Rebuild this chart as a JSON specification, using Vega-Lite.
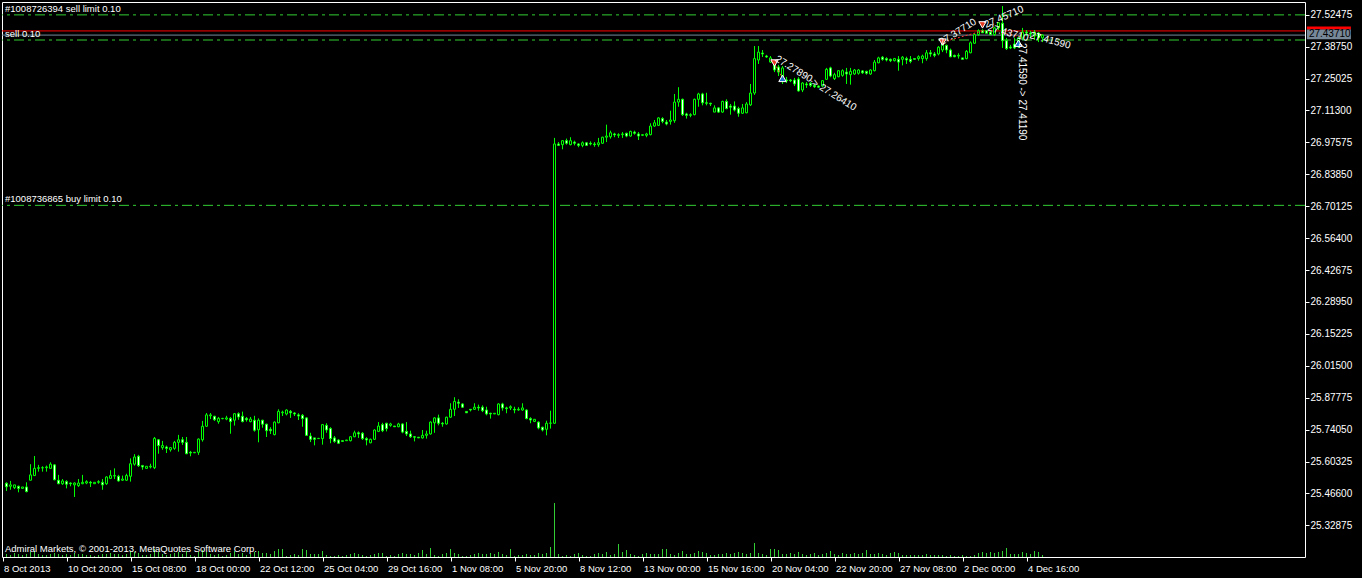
{
"$schema": "https://vega.github.io/schema/vega-lite/v6.json",
"width": 1303,
"height": 555,
"autosize": {"type": "none"},
"padding": {"left": 2, "top": 2, "right": 57, "bottom": 21},
"background": "#000000",
"config": {"view": {"stroke": "#FFFFFF", "strokeWidth": 1}, "scale": {"continuousPadding": 0}},
"datasets": {
"bars": [
{"i":0,"o":25.510,"h":25.514,"l":25.477,"c":25.495,"v":300},
{"i":1,"o":25.497,"h":25.520,"l":25.482,"c":25.503,"v":200},
{"i":2,"o":25.491,"h":25.503,"l":25.485,"c":25.503,"v":400},
{"i":3,"o":25.497,"h":25.500,"l":25.471,"c":25.488,"v":300},
{"i":4,"o":25.488,"h":25.494,"l":25.487,"c":25.494,"v":200},
{"i":5,"o":25.494,"h":25.514,"l":25.471,"c":25.474,"v":300},
{"i":6,"o":25.523,"h":25.592,"l":25.523,"c":25.546,"v":500},
{"i":7,"o":25.543,"h":25.627,"l":25.543,"c":25.574,"v":600},
{"i":8,"o":25.574,"h":25.589,"l":25.560,"c":25.577,"v":300},
{"i":9,"o":25.576,"h":25.583,"l":25.560,"c":25.577,"v":200},
{"i":10,"o":25.577,"h":25.586,"l":25.560,"c":25.580,"v":200},
{"i":11,"o":25.574,"h":25.600,"l":25.574,"c":25.592,"v":300},
{"i":12,"o":25.589,"h":25.592,"l":25.523,"c":25.525,"v":400},
{"i":13,"o":25.523,"h":25.546,"l":25.506,"c":25.508,"v":300},
{"i":14,"o":25.508,"h":25.528,"l":25.503,"c":25.520,"v":200},
{"i":15,"o":25.517,"h":25.523,"l":25.488,"c":25.506,"v":300},
{"i":16,"o":25.511,"h":25.514,"l":25.497,"c":25.508,"v":200},
{"i":17,"o":25.503,"h":25.514,"l":25.451,"c":25.511,"v":400},
{"i":18,"o":25.500,"h":25.528,"l":25.494,"c":25.511,"v":300},
{"i":19,"o":25.508,"h":25.546,"l":25.506,"c":25.514,"v":300},
{"i":20,"o":25.511,"h":25.523,"l":25.506,"c":25.517,"v":200},
{"i":21,"o":25.514,"h":25.520,"l":25.494,"c":25.511,"v":200},
{"i":22,"o":25.508,"h":25.514,"l":25.508,"c":25.514,"v":100},
{"i":23,"o":25.514,"h":25.523,"l":25.508,"c":25.517,"v":200},
{"i":24,"o":25.514,"h":25.528,"l":25.482,"c":25.503,"v":300},
{"i":25,"o":25.508,"h":25.540,"l":25.503,"c":25.537,"v":300},
{"i":26,"o":25.531,"h":25.566,"l":25.528,"c":25.543,"v":400},
{"i":27,"o":25.541,"h":25.574,"l":25.528,"c":25.543,"v":300},
{"i":28,"o":25.540,"h":25.546,"l":25.517,"c":25.520,"v":300},
{"i":29,"o":25.523,"h":25.543,"l":25.520,"c":25.528,"v":200},
{"i":30,"o":25.523,"h":25.551,"l":25.520,"c":25.543,"v":300},
{"i":31,"o":25.540,"h":25.617,"l":25.517,"c":25.594,"v":600},
{"i":32,"o":25.592,"h":25.635,"l":25.586,"c":25.623,"v":500},
{"i":33,"o":25.626,"h":25.632,"l":25.580,"c":25.586,"v":400},
{"i":34,"o":25.586,"h":25.589,"l":25.568,"c":25.580,"v":200},
{"i":35,"o":25.574,"h":25.583,"l":25.574,"c":25.583,"v":200},
{"i":36,"o":25.580,"h":25.594,"l":25.574,"c":25.583,"v":300},
{"i":37,"o":25.577,"h":25.709,"l":25.571,"c":25.703,"v":800},
{"i":38,"o":25.697,"h":25.700,"l":25.637,"c":25.672,"v":500},
{"i":39,"o":25.663,"h":25.692,"l":25.654,"c":25.672,"v":300},
{"i":40,"o":25.666,"h":25.672,"l":25.640,"c":25.660,"v":200},
{"i":41,"o":25.654,"h":25.666,"l":25.646,"c":25.663,"v":300},
{"i":42,"o":25.660,"h":25.692,"l":25.654,"c":25.686,"v":400},
{"i":43,"o":25.686,"h":25.718,"l":25.646,"c":25.697,"v":500},
{"i":44,"o":25.697,"h":25.709,"l":25.675,"c":25.686,"v":300},
{"i":45,"o":25.686,"h":25.709,"l":25.635,"c":25.637,"v":600},
{"i":46,"o":25.643,"h":25.649,"l":25.626,"c":25.640,"v":200},
{"i":47,"o":25.641,"h":25.643,"l":25.640,"c":25.643,"v":100},
{"i":48,"o":25.643,"h":25.703,"l":25.632,"c":25.700,"v":500},
{"i":49,"o":25.697,"h":25.778,"l":25.689,"c":25.755,"v":700},
{"i":50,"o":25.755,"h":25.812,"l":25.752,"c":25.804,"v":500},
{"i":51,"o":25.800,"h":25.812,"l":25.786,"c":25.804,"v":300},
{"i":52,"o":25.798,"h":25.800,"l":25.778,"c":25.783,"v":200},
{"i":53,"o":25.775,"h":25.795,"l":25.766,"c":25.789,"v":300},
{"i":54,"o":25.788,"h":25.791,"l":25.785,"c":25.789,"v":100},
{"i":55,"o":25.786,"h":25.800,"l":25.781,"c":25.791,"v":200},
{"i":56,"o":25.789,"h":25.795,"l":25.723,"c":25.775,"v":400},
{"i":57,"o":25.781,"h":25.812,"l":25.758,"c":25.809,"v":600},
{"i":58,"o":25.809,"h":25.815,"l":25.783,"c":25.795,"v":300},
{"i":59,"o":25.798,"h":25.818,"l":25.772,"c":25.775,"v":400},
{"i":60,"o":25.789,"h":25.795,"l":25.775,"c":25.783,"v":200},
{"i":61,"o":25.775,"h":25.795,"l":25.772,"c":25.786,"v":300},
{"i":62,"o":25.781,"h":25.800,"l":25.732,"c":25.738,"v":500},
{"i":63,"o":25.740,"h":25.789,"l":25.686,"c":25.781,"v":600},
{"i":64,"o":25.781,"h":25.783,"l":25.749,"c":25.764,"v":400},
{"i":65,"o":25.764,"h":25.766,"l":25.709,"c":25.736,"v":400},
{"i":66,"o":25.742,"h":25.751,"l":25.722,"c":25.736,"v":300},
{"i":67,"o":25.719,"h":25.776,"l":25.716,"c":25.773,"v":600},
{"i":68,"o":25.770,"h":25.828,"l":25.768,"c":25.819,"v":800},
{"i":69,"o":25.813,"h":25.822,"l":25.799,"c":25.816,"v":800},
{"i":70,"o":25.808,"h":25.828,"l":25.802,"c":25.825,"v":100},
{"i":71,"o":25.819,"h":25.825,"l":25.791,"c":25.813,"v":200},
{"i":72,"o":25.812,"h":25.816,"l":25.799,"c":25.808,"v":300},
{"i":73,"o":25.804,"h":25.811,"l":25.782,"c":25.799,"v":200},
{"i":74,"o":25.802,"h":25.808,"l":25.753,"c":25.788,"v":800},
{"i":75,"o":25.791,"h":25.794,"l":25.713,"c":25.716,"v":700},
{"i":76,"o":25.713,"h":25.727,"l":25.687,"c":25.699,"v":300},
{"i":77,"o":25.705,"h":25.705,"l":25.673,"c":25.699,"v":300},
{"i":78,"o":25.702,"h":25.705,"l":25.702,"c":25.703,"v":300},
{"i":79,"o":25.702,"h":25.765,"l":25.676,"c":25.762,"v":600},
{"i":80,"o":25.759,"h":25.768,"l":25.727,"c":25.739,"v":200},
{"i":81,"o":25.745,"h":25.751,"l":25.682,"c":25.702,"v":100},
{"i":82,"o":25.705,"h":25.713,"l":25.684,"c":25.690,"v":100},
{"i":83,"o":25.696,"h":25.699,"l":25.679,"c":25.682,"v":200},
{"i":84,"o":25.693,"h":25.693,"l":25.690,"c":25.690,"v":100},
{"i":85,"o":25.693,"h":25.696,"l":25.693,"c":25.696,"v":200},
{"i":86,"o":25.693,"h":25.713,"l":25.690,"c":25.710,"v":300},
{"i":87,"o":25.710,"h":25.736,"l":25.708,"c":25.727,"v":400},
{"i":88,"o":25.727,"h":25.733,"l":25.705,"c":25.722,"v":300},
{"i":89,"o":25.725,"h":25.730,"l":25.696,"c":25.702,"v":200},
{"i":90,"o":25.702,"h":25.708,"l":25.673,"c":25.696,"v":100},
{"i":91,"o":25.684,"h":25.702,"l":25.682,"c":25.699,"v":200},
{"i":92,"o":25.699,"h":25.742,"l":25.696,"c":25.739,"v":300},
{"i":93,"o":25.733,"h":25.773,"l":25.730,"c":25.756,"v":400},
{"i":94,"o":25.762,"h":25.770,"l":25.730,"c":25.736,"v":400},
{"i":95,"o":25.768,"h":25.770,"l":25.733,"c":25.745,"v":100},
{"i":96,"o":25.759,"h":25.770,"l":25.753,"c":25.765,"v":200},
{"i":97,"o":25.756,"h":25.756,"l":25.753,"c":25.753,"v":100},
{"i":98,"o":25.753,"h":25.770,"l":25.751,"c":25.765,"v":300},
{"i":99,"o":25.765,"h":25.768,"l":25.725,"c":25.730,"v":400},
{"i":100,"o":25.733,"h":25.773,"l":25.713,"c":25.722,"v":300},
{"i":101,"o":25.722,"h":25.736,"l":25.705,"c":25.710,"v":300},
{"i":102,"o":25.710,"h":25.713,"l":25.690,"c":25.708,"v":200},
{"i":103,"o":25.708,"h":25.708,"l":25.705,"c":25.705,"v":400},
{"i":104,"o":25.705,"h":25.739,"l":25.702,"c":25.716,"v":700},
{"i":105,"o":25.716,"h":25.736,"l":25.702,"c":25.722,"v":300},
{"i":106,"o":25.722,"h":25.776,"l":25.719,"c":25.773,"v":900},
{"i":107,"o":25.770,"h":25.794,"l":25.727,"c":25.791,"v":200},
{"i":108,"o":25.791,"h":25.805,"l":25.759,"c":25.768,"v":100},
{"i":109,"o":25.768,"h":25.773,"l":25.753,"c":25.765,"v":300},
{"i":110,"o":25.765,"h":25.796,"l":25.762,"c":25.794,"v":400},
{"i":111,"o":25.794,"h":25.854,"l":25.791,"c":25.828,"v":800},
{"i":112,"o":25.828,"h":25.880,"l":25.799,"c":25.862,"v":400},
{"i":113,"o":25.859,"h":25.871,"l":25.834,"c":25.854,"v":300},
{"i":114,"o":25.851,"h":25.854,"l":25.834,"c":25.837,"v":100},
{"i":115,"o":25.819,"h":25.819,"l":25.813,"c":25.813,"v":100},
{"i":116,"o":25.828,"h":25.828,"l":25.819,"c":25.825,"v":200},
{"i":117,"o":25.828,"h":25.854,"l":25.825,"c":25.837,"v":300},
{"i":118,"o":25.837,"h":25.848,"l":25.822,"c":25.834,"v":400},
{"i":119,"o":25.837,"h":25.845,"l":25.816,"c":25.822,"v":300},
{"i":120,"o":25.825,"h":25.839,"l":25.802,"c":25.808,"v":300},
{"i":121,"o":25.811,"h":25.813,"l":25.788,"c":25.808,"v":400},
{"i":122,"o":25.808,"h":25.811,"l":25.808,"c":25.811,"v":300},
{"i":123,"o":25.805,"h":25.854,"l":25.802,"c":25.851,"v":500},
{"i":124,"o":25.851,"h":25.856,"l":25.822,"c":25.834,"v":300},
{"i":125,"o":25.834,"h":25.839,"l":25.811,"c":25.831,"v":200},
{"i":126,"o":25.834,"h":25.845,"l":25.825,"c":25.839,"v":800},
{"i":127,"o":25.828,"h":25.839,"l":25.811,"c":25.825,"v":100},
{"i":128,"o":25.825,"h":25.837,"l":25.822,"c":25.828,"v":200},
{"i":129,"o":25.825,"h":25.854,"l":25.822,"c":25.834,"v":200},
{"i":130,"o":25.825,"h":25.828,"l":25.785,"c":25.788,"v":300},
{"i":131,"o":25.788,"h":25.794,"l":25.768,"c":25.782,"v":200},
{"i":132,"o":25.776,"h":25.785,"l":25.773,"c":25.785,"v":200},
{"i":133,"o":25.773,"h":25.776,"l":25.742,"c":25.748,"v":400},
{"i":134,"o":25.751,"h":25.753,"l":25.733,"c":25.739,"v":300},
{"i":135,"o":25.742,"h":25.779,"l":25.716,"c":25.768,"v":400},
{"i":136,"o":25.768,"h":25.822,"l":25.745,"c":25.769,"v":1000},
{"i":137,"o":25.768,"h":26.995,"l":25.765,"c":26.969,"v":5400},
{"i":138,"o":26.969,"h":26.977,"l":26.960,"c":26.963,"v":300},
{"i":139,"o":26.966,"h":26.986,"l":26.946,"c":26.983,"v":100},
{"i":140,"o":26.983,"h":26.992,"l":26.966,"c":26.972,"v":200},
{"i":141,"o":26.966,"h":26.998,"l":26.963,"c":26.983,"v":100},
{"i":142,"o":26.977,"h":26.983,"l":26.963,"c":26.972,"v":300},
{"i":143,"o":26.969,"h":26.972,"l":26.955,"c":26.963,"v":400},
{"i":144,"o":26.963,"h":26.980,"l":26.955,"c":26.974,"v":200},
{"i":145,"o":26.974,"h":26.977,"l":26.960,"c":26.963,"v":100},
{"i":146,"o":26.972,"h":26.980,"l":26.963,"c":26.969,"v":100},
{"i":147,"o":26.969,"h":26.977,"l":26.957,"c":26.966,"v":300},
{"i":148,"o":26.966,"h":26.995,"l":26.957,"c":26.974,"v":400},
{"i":149,"o":26.972,"h":27.000,"l":26.969,"c":26.998,"v":300},
{"i":150,"o":26.998,"h":27.052,"l":26.977,"c":27.003,"v":500},
{"i":151,"o":27.000,"h":27.026,"l":26.992,"c":27.017,"v":200},
{"i":152,"o":27.012,"h":27.017,"l":26.998,"c":27.008,"v":300},
{"i":153,"o":27.006,"h":27.015,"l":26.995,"c":27.009,"v":1300},
{"i":154,"o":27.009,"h":27.020,"l":26.995,"c":27.012,"v":500},
{"i":155,"o":27.015,"h":27.017,"l":26.998,"c":27.003,"v":700},
{"i":156,"o":27.003,"h":27.026,"l":27.000,"c":27.023,"v":300},
{"i":157,"o":27.020,"h":27.026,"l":27.009,"c":27.015,"v":200},
{"i":158,"o":27.012,"h":27.020,"l":26.986,"c":27.003,"v":100},
{"i":159,"o":27.006,"h":27.009,"l":27.003,"c":27.009,"v":300},
{"i":160,"o":27.006,"h":27.017,"l":26.998,"c":27.012,"v":400},
{"i":161,"o":27.009,"h":27.058,"l":27.006,"c":27.046,"v":300},
{"i":162,"o":27.046,"h":27.072,"l":27.043,"c":27.060,"v":300},
{"i":163,"o":27.049,"h":27.084,"l":27.046,"c":27.081,"v":300},
{"i":164,"o":27.078,"h":27.084,"l":27.058,"c":27.066,"v":800},
{"i":165,"o":27.063,"h":27.072,"l":27.049,"c":27.055,"v":800},
{"i":166,"o":27.066,"h":27.112,"l":27.052,"c":27.072,"v":300},
{"i":167,"o":27.069,"h":27.184,"l":27.060,"c":27.149,"v":200},
{"i":168,"o":27.149,"h":27.213,"l":27.129,"c":27.161,"v":400},
{"i":169,"o":27.161,"h":27.164,"l":27.089,"c":27.095,"v":600},
{"i":170,"o":27.098,"h":27.103,"l":27.078,"c":27.092,"v":300},
{"i":171,"o":27.092,"h":27.101,"l":27.084,"c":27.095,"v":300},
{"i":172,"o":27.095,"h":27.164,"l":27.092,"c":27.161,"v":400},
{"i":173,"o":27.161,"h":27.189,"l":27.129,"c":27.184,"v":600},
{"i":174,"o":27.184,"h":27.189,"l":27.135,"c":27.146,"v":500},
{"i":175,"o":27.146,"h":27.189,"l":27.135,"c":27.144,"v":400},
{"i":176,"o":27.144,"h":27.146,"l":27.132,"c":27.141,"v":200},
{"i":177,"o":27.106,"h":27.135,"l":27.106,"c":27.124,"v":200},
{"i":178,"o":27.124,"h":27.127,"l":27.103,"c":27.106,"v":300},
{"i":179,"o":27.106,"h":27.155,"l":27.103,"c":27.152,"v":300},
{"i":180,"o":27.152,"h":27.161,"l":27.118,"c":27.121,"v":400},
{"i":181,"o":27.132,"h":27.141,"l":27.095,"c":27.127,"v":300},
{"i":182,"o":27.132,"h":27.152,"l":27.109,"c":27.115,"v":400},
{"i":183,"o":27.121,"h":27.129,"l":27.086,"c":27.101,"v":500},
{"i":184,"o":27.101,"h":27.141,"l":27.098,"c":27.124,"v":400},
{"i":185,"o":27.103,"h":27.149,"l":27.101,"c":27.141,"v":300},
{"i":186,"o":27.137,"h":27.227,"l":27.132,"c":27.188,"v":400},
{"i":187,"o":27.188,"h":27.390,"l":27.180,"c":27.336,"v":1400},
{"i":188,"o":27.330,"h":27.390,"l":27.313,"c":27.364,"v":400},
{"i":189,"o":27.360,"h":27.373,"l":27.343,"c":27.356,"v":300},
{"i":190,"o":27.347,"h":27.352,"l":27.339,"c":27.343,"v":200},
{"i":191,"o":27.321,"h":27.347,"l":27.317,"c":27.339,"v":800},
{"i":192,"o":27.317,"h":27.330,"l":27.278,"c":27.287,"v":800},
{"i":193,"o":27.300,"h":27.309,"l":27.261,"c":27.278,"v":700},
{"i":194,"o":27.244,"h":27.304,"l":27.227,"c":27.296,"v":300},
{"i":195,"o":27.244,"h":27.257,"l":27.231,"c":27.240,"v":300},
{"i":196,"o":27.244,"h":27.248,"l":27.235,"c":27.241,"v":400},
{"i":197,"o":27.244,"h":27.253,"l":27.218,"c":27.227,"v":300},
{"i":198,"o":27.248,"h":27.256,"l":27.194,"c":27.197,"v":500},
{"i":199,"o":27.201,"h":27.235,"l":27.192,"c":27.231,"v":300},
{"i":200,"o":27.227,"h":27.235,"l":27.210,"c":27.223,"v":200},
{"i":201,"o":27.230,"h":27.235,"l":27.214,"c":27.221,"v":300},
{"i":202,"o":27.221,"h":27.227,"l":27.210,"c":27.215,"v":400},
{"i":203,"o":27.218,"h":27.221,"l":27.210,"c":27.213,"v":200},
{"i":204,"o":27.218,"h":27.244,"l":27.214,"c":27.241,"v":300},
{"i":205,"o":27.247,"h":27.296,"l":27.244,"c":27.290,"v":400},
{"i":206,"o":27.296,"h":27.301,"l":27.256,"c":27.261,"v":600},
{"i":207,"o":27.250,"h":27.275,"l":27.244,"c":27.267,"v":300},
{"i":208,"o":27.258,"h":27.287,"l":27.256,"c":27.284,"v":200},
{"i":209,"o":27.264,"h":27.290,"l":27.258,"c":27.284,"v":400},
{"i":210,"o":27.278,"h":27.296,"l":27.227,"c":27.270,"v":300},
{"i":211,"o":27.267,"h":27.296,"l":27.224,"c":27.281,"v":300},
{"i":212,"o":27.270,"h":27.291,"l":27.266,"c":27.287,"v":400},
{"i":213,"o":27.273,"h":27.291,"l":27.267,"c":27.287,"v":300},
{"i":214,"o":27.283,"h":27.287,"l":27.270,"c":27.275,"v":400},
{"i":215,"o":27.281,"h":27.284,"l":27.267,"c":27.273,"v":700},
{"i":216,"o":27.270,"h":27.290,"l":27.266,"c":27.287,"v":300},
{"i":217,"o":27.284,"h":27.330,"l":27.281,"c":27.321,"v":300},
{"i":218,"o":27.318,"h":27.344,"l":27.316,"c":27.339,"v":400},
{"i":219,"o":27.342,"h":27.347,"l":27.327,"c":27.333,"v":300},
{"i":220,"o":27.336,"h":27.342,"l":27.324,"c":27.330,"v":200},
{"i":221,"o":27.333,"h":27.336,"l":27.321,"c":27.327,"v":400},
{"i":222,"o":27.327,"h":27.339,"l":27.324,"c":27.336,"v":500},
{"i":223,"o":27.333,"h":27.347,"l":27.284,"c":27.321,"v":400},
{"i":224,"o":27.333,"h":27.347,"l":27.307,"c":27.342,"v":200},
{"i":225,"o":27.336,"h":27.344,"l":27.313,"c":27.330,"v":200},
{"i":226,"o":27.333,"h":27.347,"l":27.316,"c":27.324,"v":200},
{"i":227,"o":27.336,"h":27.336,"l":27.333,"c":27.333,"v":200},
{"i":228,"o":27.336,"h":27.350,"l":27.327,"c":27.344,"v":200},
{"i":229,"o":27.336,"h":27.353,"l":27.316,"c":27.347,"v":200},
{"i":230,"o":27.336,"h":27.373,"l":27.327,"c":27.361,"v":300},
{"i":231,"o":27.361,"h":27.373,"l":27.344,"c":27.356,"v":200},
{"i":232,"o":27.356,"h":27.364,"l":27.342,"c":27.350,"v":200},
{"i":233,"o":27.356,"h":27.390,"l":27.350,"c":27.385,"v":200},
{"i":234,"o":27.373,"h":27.407,"l":27.364,"c":27.402,"v":200},
{"i":235,"o":27.393,"h":27.396,"l":27.359,"c":27.373,"v":100},
{"i":236,"o":27.373,"h":27.379,"l":27.342,"c":27.344,"v":200},
{"i":237,"o":27.350,"h":27.353,"l":27.342,"c":27.344,"v":100},
{"i":238,"o":27.347,"h":27.359,"l":27.336,"c":27.350,"v":100},
{"i":239,"o":27.339,"h":27.339,"l":27.333,"c":27.333,"v":200},
{"i":240,"o":27.336,"h":27.373,"l":27.333,"c":27.367,"v":100},
{"i":241,"o":27.361,"h":27.410,"l":27.359,"c":27.404,"v":100},
{"i":242,"o":27.402,"h":27.445,"l":27.399,"c":27.439,"v":200},
{"i":243,"o":27.439,"h":27.462,"l":27.433,"c":27.456,"v":400},
{"i":244,"o":27.456,"h":27.462,"l":27.446,"c":27.447,"v":500},
{"i":245,"o":27.456,"h":27.456,"l":27.445,"c":27.445,"v":400},
{"i":246,"o":27.450,"h":27.455,"l":27.438,"c":27.439,"v":500},
{"i":247,"o":27.439,"h":27.473,"l":27.433,"c":27.468,"v":400},
{"i":248,"o":27.468,"h":27.493,"l":27.459,"c":27.490,"v":500},
{"i":249,"o":27.488,"h":27.562,"l":27.382,"c":27.413,"v":600},
{"i":250,"o":27.413,"h":27.425,"l":27.373,"c":27.379,"v":900},
{"i":251,"o":27.386,"h":27.395,"l":27.377,"c":27.382,"v":300},
{"i":252,"o":27.399,"h":27.425,"l":27.377,"c":27.382,"v":300},
{"i":253,"o":27.386,"h":27.433,"l":27.382,"c":27.425,"v":300},
{"i":254,"o":27.425,"h":27.468,"l":27.416,"c":27.450,"v":500},
{"i":255,"o":27.450,"h":27.459,"l":27.433,"c":27.446,"v":400},
{"i":256,"o":27.446,"h":27.455,"l":27.425,"c":27.442,"v":300},
{"i":257,"o":27.433,"h":27.459,"l":27.416,"c":27.450,"v":600},
{"i":258,"o":27.446,"h":27.450,"l":27.407,"c":27.425,"v":500},
{"i":259,"o":27.425,"h":27.441,"l":27.407,"c":27.437,"v":200}
],
"levels": [
{"name":"#1008726394 sell limit 0.10","p":27.524},
{"name":"sell 0.10","p":27.416},
{"name":"#1008736865 buy limit 0.10","p":26.705}
],
"quotes": [
{"name":"ask","p":27.455,"label":"27.45500"},
{"name":"bid","p":27.4371,"label":"27.43710"}
],
"trades": [
{"side":"sell","i":192,"p":27.317},
{"side":"buy","i":194,"p":27.251},
{"side":"sell","i":234,"p":27.407},
{"side":"sell","i":244,"p":27.481},
{"side":"buy","i":253,"p":27.402}
],
"tradelines": [
{"i":192,"p":27.317,"i2":194,"p2":27.251},
{"i":234,"p":27.407,"i2":244,"p2":27.455},
{"i":249,"p":27.446,"i2":254,"p2":27.429}
],
"notes": [
{"id":1,"t":"27.27890","i":192.4,"p":27.339},
{"id":2,"t":"-> 27.26410","i":200.9,"p":27.244},
{"id":3,"t":"27.37710","i":233.4,"p":27.403},
{"id":4,"t":"27.45710","i":244.6,"p":27.479},
{"id":5,"t":"27.43710","i":245.4,"p":27.470},
{"id":6,"t":"27.41590 -> 27.41190","i":253.9,"p":27.403},
{"id":7,"t":"27.41590","i":255.9,"p":27.437}
],
"corner": [
{"t":"Admiral Markets, © 2001-2013, MetaQuotes Software Corp.","p":25.227}
]
},
"resolve": {"scale": {"y": "independent"}},
"layer": [
{
"data": {"name": "bars"},
"mark": {"type": "bar", "size": 1, "color": "#32CD32"},
"encoding": {
"x": {"field": "i", "type": "quantitative", "scale": {"domain": [-1.125, 324.625], "nice": false, "zero": false, "padding": 0},
"axis": {"values": [-1,15,31,47,63,79,95,111,127,143,159,175,191,207,223,239,255],
"labelExpr": "['8 Oct 2013','10 Oct 20:00','15 Oct 08:00','18 Oct 00:00','22 Oct 12:00','25 Oct 04:00','29 Oct 16:00','1 Nov 08:00','5 Nov 20:00','8 Nov 12:00','13 Nov 00:00','15 Nov 16:00','20 Nov 04:00','22 Nov 20:00','27 Nov 08:00','2 Dec 00:00','4 Dec 16:00'][round((datum.value+1)/16)]",
"labelAlign": "left", "labelBaseline": "top", "labelPadding": 2, "labelOffset": 1, "labelColor": "#FFFFFF", "labelFont": "Liberation Sans", "labelFontSize": 9.5,
"tickColor": "#FFFFFF", "tickSize": 4, "tickWidth": 1, "domain": false, "grid": false, "title": null, "labelOverlap": false, "labelFlush": false, "labelBound": false}},
"y": {"field": "v", "type": "quantitative", "scale": {"domain": [0, 55500], "nice": false}, "axis": null},
"y2": {"datum": 0}
}
},
{
"data": {"name": "bars"},
"mark": {"type": "bar", "size": 2, "stroke": "#00FF00", "strokeWidth": 1, "opacity": 0},
"encoding": {
"x": {"field": "i", "type": "quantitative", "scale": {"domain": [-1.125, 324.625], "nice": false, "zero": false, "padding": 0}},
"y": {"field": "o", "type": "quantitative", "scale": {"domain": [25.1929, 27.5794], "nice": false, "zero": false},
"axis": {"orient": "right", "values": [25.32875,25.466,25.60325,25.7405,25.87775,26.015,26.15225,26.2895,26.42675,26.564,26.70125,26.8385,26.97575,27.113,27.25025,27.3875,27.52475],
"format": ".5f", "labelColor": "#FFFFFF", "labelFont": "Liberation Sans", "labelFontSize": 10, "labelPadding": 1,
"tickColor": "#FFFFFF", "tickSize": 4, "tickWidth": 1, "domain": false, "grid": false, "title": null, "labelOverlap": false, "labelFlush": false, "labelBound": false}},
"y2": {"field": "c"}
}
},
{
"data": {"name": "levels"},
"mark": {"type": "rule", "color": "#32CD32", "strokeWidth": 1, "strokeDash": [10, 4, 3, 4]},
"encoding": {"y": {"field": "p", "type": "quantitative", "scale": {"domain": [25.1929, 27.5794], "nice": false, "zero": false}, "axis": null}}
},
{
"data": {"name": "quotes"},
"transform": [{"filter": "datum.name == 'ask'"}],
"mark": {"type": "rule", "color": "#FF0000", "strokeWidth": 1},
"encoding": {"y": {"field": "p", "type": "quantitative", "scale": {"domain": [25.1929, 27.5794], "nice": false, "zero": false}, "axis": null}}
},
{
"data": {"name": "quotes"},
"transform": [{"filter": "datum.name == 'bid'"}],
"mark": {"type": "rule", "color": "#778899", "strokeWidth": 1},
"encoding": {"y": {"field": "p", "type": "quantitative", "scale": {"domain": [25.1929, 27.5794], "nice": false, "zero": false}, "axis": null}}
},
{
"data": {"name": "bars"},
"mark": {"type": "rule", "color": "#00FF00", "strokeWidth": 1},
"encoding": {
"x": {"field": "i", "type": "quantitative", "scale": {"domain": [-1.125, 324.625], "nice": false, "zero": false, "padding": 0}},
"y": {"field": "l", "type": "quantitative", "scale": {"domain": [25.1929, 27.5794], "nice": false, "zero": false}, "axis": null},
"y2": {"field": "h"}
}
},
{
"data": {"name": "bars"},
"mark": {"type": "bar", "size": 2, "stroke": "#00FF00", "strokeWidth": 1},
"encoding": {
"x": {"field": "i", "type": "quantitative", "scale": {"domain": [-1.125, 324.625], "nice": false, "zero": false, "padding": 0}},
"y": {"field": "o", "type": "quantitative", "scale": {"domain": [25.1929, 27.5794], "nice": false, "zero": false}, "axis": null},
"y2": {"field": "c"},
"fill": {"condition": {"test": "datum.c < datum.o", "value": "#FFFFFF"}, "value": "#000000"}
}
},
{
"data": {"name": "tradelines"},
"mark": {"type": "rule", "color": "#FF3030", "strokeWidth": 1, "strokeDash": [2, 2]},
"encoding": {
"x": {"field": "i", "type": "quantitative", "scale": {"domain": [-1.125, 324.625], "nice": false, "zero": false, "padding": 0}},
"x2": {"field": "i2"},
"y": {"field": "p", "type": "quantitative", "scale": {"domain": [25.1929, 27.5794], "nice": false, "zero": false}, "axis": null},
"y2": {"field": "p2"}
}
},
{
"data": {"name": "trades"},
"transform": [{"filter": "datum.side == 'sell'"}],
"mark": {"type": "point", "shape": "triangle-down", "filled": true, "fill": "#E83A1E", "stroke": "#FFFFFF", "strokeWidth": 1, "size": 55, "opacity": 1},
"encoding": {
"x": {"field": "i", "type": "quantitative", "scale": {"domain": [-1.125, 324.625], "nice": false, "zero": false, "padding": 0}},
"y": {"field": "p", "type": "quantitative", "scale": {"domain": [25.1929, 27.5794], "nice": false, "zero": false}, "axis": null}
}
},
{
"data": {"name": "trades"},
"transform": [{"filter": "datum.side == 'buy'"}],
"mark": {"type": "point", "shape": "triangle-up", "filled": true, "fill": "#1E6ED2", "stroke": "#FFFFFF", "strokeWidth": 1, "size": 55, "opacity": 1},
"encoding": {
"x": {"field": "i", "type": "quantitative", "scale": {"domain": [-1.125, 324.625], "nice": false, "zero": false, "padding": 0}},
"y": {"field": "p", "type": "quantitative", "scale": {"domain": [25.1929, 27.5794], "nice": false, "zero": false}, "axis": null}
}
},
{
"data": {"name": "levels"},
"mark": {"type": "text", "align": "left", "baseline": "bottom", "dy": -1, "color": "#FFFFFF", "font": "Liberation Sans", "fontSize": 9.5},
"encoding": {
"x": {"datum": -0.375, "type": "quantitative", "scale": {"domain": [-1.125, 324.625], "nice": false, "zero": false, "padding": 0}},
"y": {"field": "p", "type": "quantitative", "scale": {"domain": [25.1929, 27.5794], "nice": false, "zero": false}, "axis": null},
"text": {"field": "name"}
}
},
{
"data": {"name": "corner"},
"mark": {"type": "text", "align": "left", "baseline": "middle", "color": "#FFFFFF", "font": "Liberation Sans", "fontSize": 9.5},
"encoding": {
"x": {"datum": -0.375, "type": "quantitative", "scale": {"domain": [-1.125, 324.625], "nice": false, "zero": false, "padding": 0}},
"y": {"field": "p", "type": "quantitative", "scale": {"domain": [25.1929, 27.5794], "nice": false, "zero": false}, "axis": null},
"text": {"field": "t"}
}
},
{
"data": {"name": "notes"},
"transform": [{"filter": "datum.id == 1 || datum.id == 2"}],
"mark": {"type": "text", "align": "left", "baseline": "middle", "angle": 32, "color": "#FFFFFF", "font": "Liberation Sans", "fontSize": 10},
"encoding": {
"x": {"field": "i", "type": "quantitative", "scale": {"domain": [-1.125, 324.625], "nice": false, "zero": false, "padding": 0}},
"y": {"field": "p", "type": "quantitative", "scale": {"domain": [25.1929, 27.5794], "nice": false, "zero": false}, "axis": null},
"text": {"field": "t"}
}
},
{
"data": {"name": "notes"},
"transform": [{"filter": "datum.id == 3"}],
"mark": {"type": "text", "align": "left", "baseline": "middle", "angle": 328, "color": "#FFFFFF", "font": "Liberation Sans", "fontSize": 10},
"encoding": {
"x": {"field": "i", "type": "quantitative", "scale": {"domain": [-1.125, 324.625], "nice": false, "zero": false, "padding": 0}},
"y": {"field": "p", "type": "quantitative", "scale": {"domain": [25.1929, 27.5794], "nice": false, "zero": false}, "axis": null},
"text": {"field": "t"}
}
},
{
"data": {"name": "notes"},
"transform": [{"filter": "datum.id == 4"}],
"mark": {"type": "text", "align": "left", "baseline": "middle", "angle": 336, "color": "#FFFFFF", "font": "Liberation Sans", "fontSize": 10},
"encoding": {
"x": {"field": "i", "type": "quantitative", "scale": {"domain": [-1.125, 324.625], "nice": false, "zero": false, "padding": 0}},
"y": {"field": "p", "type": "quantitative", "scale": {"domain": [25.1929, 27.5794], "nice": false, "zero": false}, "axis": null},
"text": {"field": "t"}
}
},
{
"data": {"name": "notes"},
"transform": [{"filter": "datum.id == 5 || datum.id == 7"}],
"mark": {"type": "text", "align": "left", "baseline": "middle", "angle": 15, "color": "#FFFFFF", "font": "Liberation Sans", "fontSize": 10},
"encoding": {
"x": {"field": "i", "type": "quantitative", "scale": {"domain": [-1.125, 324.625], "nice": false, "zero": false, "padding": 0}},
"y": {"field": "p", "type": "quantitative", "scale": {"domain": [25.1929, 27.5794], "nice": false, "zero": false}, "axis": null},
"text": {"field": "t"}
}
},
{
"data": {"name": "notes"},
"transform": [{"filter": "datum.id == 6"}],
"mark": {"type": "text", "align": "left", "baseline": "middle", "angle": 90, "color": "#FFFFFF", "font": "Liberation Sans", "fontSize": 10},
"encoding": {
"x": {"field": "i", "type": "quantitative", "scale": {"domain": [-1.125, 324.625], "nice": false, "zero": false, "padding": 0}},
"y": {"field": "p", "type": "quantitative", "scale": {"domain": [25.1929, 27.5794], "nice": false, "zero": false}, "axis": null},
"text": {"field": "t"}
}
},
{
"data": {"name": "quotes"},
"transform": [{"filter": "datum.name == 'ask'"}],
"mark": {"type": "rect", "color": "#FF0000"},
"encoding": {
"x": {"datum": 325.1, "type": "quantitative", "scale": {"domain": [-1.125, 324.625], "nice": false, "zero": false, "padding": 0}},
"x2": {"datum": 336.1},
"y": {"datum": 27.474, "type": "quantitative", "scale": {"domain": [25.1929, 27.5794], "nice": false, "zero": false}, "axis": null},
"y2": {"datum": 27.461}
}
},
{
"data": {"name": "quotes"},
"transform": [{"filter": "datum.name == 'bid'"}],
"mark": {"type": "rect", "color": "#778899"},
"encoding": {
"x": {"datum": 325.1, "type": "quantitative", "scale": {"domain": [-1.125, 324.625], "nice": false, "zero": false, "padding": 0}},
"x2": {"datum": 336.1},
"y": {"datum": 27.461, "type": "quantitative", "scale": {"domain": [25.1929, 27.5794], "nice": false, "zero": false}, "axis": null},
"y2": {"datum": 27.419}
}
},
{
"data": {"name": "quotes"},
"transform": [{"filter": "datum.name == 'bid'"}],
"mark": {"type": "text", "align": "left", "baseline": "middle", "color": "#000000", "font": "Liberation Sans", "fontSize": 10},
"encoding": {
"x": {"datum": 325.6, "type": "quantitative", "scale": {"domain": [-1.125, 324.625], "nice": false, "zero": false, "padding": 0}},
"y": {"datum": 27.440, "type": "quantitative", "scale": {"domain": [25.1929, 27.5794], "nice": false, "zero": false}, "axis": null},
"text": {"field": "label"}
}
}
]
}
